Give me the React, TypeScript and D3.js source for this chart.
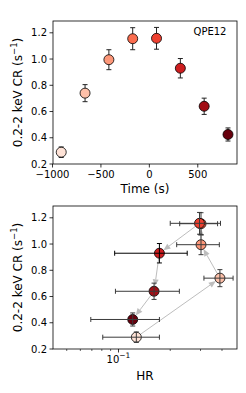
import React from 'react';
import * as d3 from 'd3';

// QPE12 light curve + hardness-ratio track
const times = [-910, -664, -418, -172, 74, 320, 566, 812];
const rates = [0.29, 0.74, 0.995, 1.155, 1.158, 0.93, 0.64, 0.425];
const rateErr = [0.04, 0.065, 0.076, 0.084, 0.083, 0.074, 0.062, 0.05];
const hr = [0.127, 0.389, 0.302, 0.302, 0.296, 0.173, 0.161, 0.121];
const hrErr = [0.046, 0.075, 0.084, 0.075, 0.096, 0.078, 0.065, 0.052];
const timeTicks = [-1000, -500, 0, 500];
const rateTicks = [0.2, 0.4, 0.6, 0.8, 1.0, 1.2];
const hrMinorTicks = [0.05, 0.06, 0.07, 0.08, 0.09, 0.2, 0.3, 0.4];

const W = 246, H = 393;
const left = 53, right = 237;
const top1 = 21, bot1 = 164;
const top2 = 206, bot2 = 349;
const font = 'DejaVu Sans, sans-serif';
const tickSize = 10;
const labelSize = 12;
const R = 5;

const color = d3.scaleSequential(d3.interpolateReds).domain([-0.8, 7]);

function YAxis({ y, top, bot }: any) {
  return (
    <g>
      {rateTicks.map((t) => (
        <g key={t} transform={`translate(${left},${y(t)})`}>
          <line x1={-3.5} x2={0} stroke="#000" strokeWidth={0.8} />
          <text x={-6} dy="0.35em" textAnchor="end" fontSize={tickSize} fontFamily={font}>
            {d3.format('.1f')(t)}
          </text>
        </g>
      ))}
      <text transform={`translate(18,${(top + bot) / 2}) rotate(-90)`} textAnchor="middle"
            dy="0.35em" fontSize={labelSize} fontFamily={font}>
        0.2-2 keV CR (s<tspan fontSize={8.5} dy={-5}>−1</tspan><tspan dy={5}>)</tspan>
      </text>
    </g>
  );
}

function Arrow({ x1, y1, x2, y2 }: any) {
  const dx = x2 - x1, dy = y2 - y1;
  const len = Math.sqrt(dx * dx + dy * dy);
  if (len < 12) return null;
  const ux = dx / len, uy = dy / len;
  const sx = x1 + ux * 5, sy = y1 + uy * 5;
  const ex = x2 - ux * 5, ey = y2 - uy * 5;
  const hl = 7, hw = 3;
  const bx = ex - ux * hl, by = ey - uy * hl;
  const head = `M${ex},${ey}L${bx - uy * hw},${by + ux * hw}L${bx + uy * hw},${by - ux * hw}Z`;
  return (
    <g opacity={0.75}>
      <line x1={sx} y1={sy} x2={bx} y2={by} stroke="#a8a8a8" strokeWidth={1} />
      <path d={head} fill="#a8a8a8" />
    </g>
  );
}

export default function App() {
  const xT = d3.scaleLinear().domain([-995, 905]).range([left, right]);
  const y1 = d3.scaleLinear().domain([0.2, 1.29]).range([bot1, top1]);
  const xH = d3.scaleLog().domain([0.0416, 0.489]).range([left, right]);
  const y2 = d3.scaleLinear().domain([0.2, 1.29]).range([bot2, top2]);
  const cap = 2.5;

  return (
    <svg width={W} height={H} style={{ position: 'absolute', left: 0, top: 0, background: '#fff' }}>
      {/* top panel: count rate vs time */}
      <g>
        {times.map((t, i) => {
          const cx = xT(t), cy = y1(rates[i]);
          const ya = y1(rates[i] + rateErr[i]), yb = y1(rates[i] - rateErr[i]);
          return (
            <g key={i}>
              <line x1={cx} x2={cx} y1={ya} y2={yb} stroke="#222" strokeWidth={1} />
              <line x1={cx - cap} x2={cx + cap} y1={ya} y2={ya} stroke="#222" strokeWidth={1} />
              <line x1={cx - cap} x2={cx + cap} y1={yb} y2={yb} stroke="#222" strokeWidth={1} />
              <circle cx={cx} cy={cy} r={R} fill={color(i)} stroke="#000" strokeWidth={0.8} />
            </g>
          );
        })}
        <rect x={left} y={top1} width={right - left} height={bot1 - top1} fill="none" stroke="#000" strokeWidth={0.8} />
        {timeTicks.map((t) => (
          <g key={t} transform={`translate(${xT(t)},${bot1})`}>
            <line y1={0} y2={3.5} stroke="#000" strokeWidth={0.8} />
            <text y={14} textAnchor="middle" fontSize={tickSize} fontFamily={font}>
              {d3.format('d')(t)}
            </text>
          </g>
        ))}
        <YAxis y={y1} top={top1} bot={bot1} />
        <text x={(left + right) / 2} y={193} textAnchor="middle" fontSize={labelSize} fontFamily={font}>Time (s)</text>
        <text x={210} y={31} dy="0.35em" textAnchor="middle" fontSize={tickSize} fontFamily={font}>QPE12</text>
      </g>

      {/* bottom panel: count rate vs hardness ratio */}
      <g>
        {hr.slice(1).map((h, i) => (
          <Arrow key={i} x1={xH(hr[i])} y1={y2(rates[i])} x2={xH(h)} y2={y2(rates[i + 1])} />
        ))}
        {hr.map((h, i) => {
          const cx = xH(h), cy = y2(rates[i]);
          const ya = y2(rates[i] + rateErr[i]), yb = y2(rates[i] - rateErr[i]);
          const xa = xH(h - hrErr[i]), xb = xH(h + hrErr[i]);
          return (
            <g key={i}>
              <circle cx={cx} cy={cy} r={R} fill={color(i)} stroke="#000" strokeWidth={0.8} />
              <g stroke={i === 5 ? '#000' : '#3a3a3a'} strokeWidth={1}>
                <line x1={cx} x2={cx} y1={ya} y2={yb} />
                <line x1={cx - cap} x2={cx + cap} y1={ya} y2={ya} />
                <line x1={cx - cap} x2={cx + cap} y1={yb} y2={yb} />
                <line x1={xa} x2={xb} y1={cy} y2={cy} />
                <line x1={xa} x2={xa} y1={cy - cap} y2={cy + cap} />
                <line x1={xb} x2={xb} y1={cy - cap} y2={cy + cap} />
              </g>
            </g>
          );
        })}
        <rect x={left} y={top2} width={right - left} height={bot2 - top2} fill="none" stroke="#000" strokeWidth={0.8} />
        {hrMinorTicks.map((t) => (
          <line key={t} x1={xH(t)} x2={xH(t)} y1={bot2} y2={bot2 + 2} stroke="#000" strokeWidth={0.6} />
        ))}
        <g transform={`translate(${xH(0.1)},${bot2})`}>
          <line y1={0} y2={3.5} stroke="#000" strokeWidth={0.8} />
          <text y={14} textAnchor="middle" fontSize={tickSize} fontFamily={font}>
            10<tspan fontSize={7.5} dy={-5}>−1</tspan>
          </text>
        </g>
        <YAxis y={y2} top={top2} bot={bot2} />
        <text x={(left + right) / 2} y={380} textAnchor="middle" fontSize={labelSize} fontFamily={font}>HR</text>
      </g>
    </svg>
  );
}
